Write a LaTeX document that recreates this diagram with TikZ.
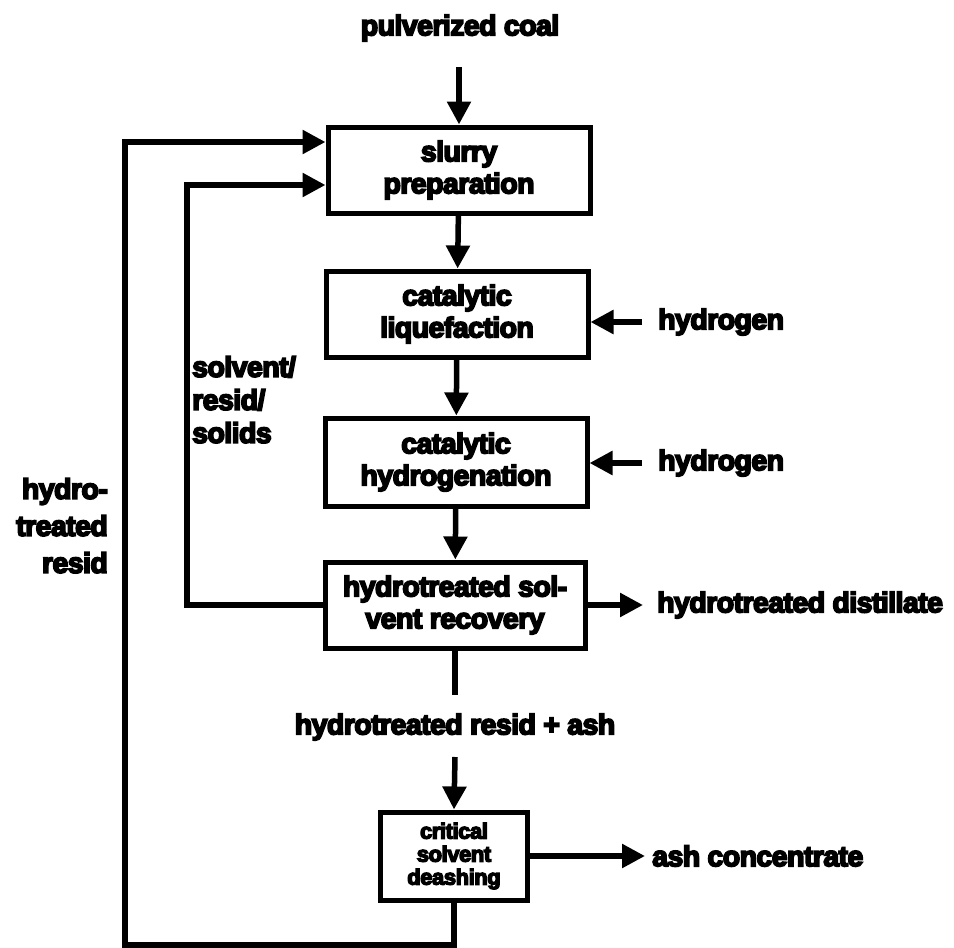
\documentclass[tikz,border=0pt]{standalone}
\usepackage{fontspec}
\newfontfamily\heavy{Liberation Sans Bold}[FakeBold=6,LetterSpace=-2]
\usetikzlibrary{arrows.meta}
\begin{document}
\begin{tikzpicture}[x=1pt,y=-1pt,
  flow/.style={line width=5.5pt},
  arr/.style={flow,-{Triangle[length=23pt,width=23pt]}},
  unit/.style={draw,line width=5pt,minimum width=262pt,minimum height=86pt,
    inner sep=0pt,align=center,font=\fontsize{28.5}{32}\selectfont\heavy},
  smallunit/.style={unit,minimum width=147pt,minimum height=88pt,
    font=\fontsize{22}{23}\selectfont\heavy},
  lbl/.style={inner sep=0pt,font=\fontsize{28.5}{33}\selectfont\heavy}]
\useasboundingbox (0,0) rectangle (954,948);

% process units
\node[unit] (b1) at (459,170) {slurry\\preparation};
\node[unit] (b2) at (457,314) {catalytic\\liquefaction};
\node[unit,minimum height=88pt] (b3) at (456,462) {catalytic\\hydrogenation};
\node[unit,minimum width=260pt] (b4) at (455,605) {hydrotreated sol-\\vent recovery};
\node[smallunit] (b5) at (454,856) {critical\\solvent\\deashing};

% stream labels
\node[lbl] (coal) at (460,28) {pulverized coal};
\node[lbl,anchor=west] (h1) at (658,322) {hydrogen};
\node[lbl,anchor=west] (h2) at (658,463) {hydrogen};
\node[lbl,anchor=west] (dist) at (657,605) {hydrotreated distillate};
\node[lbl] (rash) at (455,727) {hydrotreated resid + ash};
\node[lbl,anchor=west] (ashc) at (652,856) {ash concentrate};
\node[lbl,anchor=north west,align=left] (srs) at (192,356) {solvent/\\resid/\\solids};
\node[lbl,anchor=north east,align=right,font=\fontsize{28.5}{37}\selectfont\heavy] (htr) at (108,478) {hydro-\\treated\\resid};

% main train
\coordinate (cin) at (459,67);
\draw[arr] (cin) -- (b1.north);
\draw[arr] (b1) -- (b2);
\draw[arr] (b2) -- (b3);
\draw[arr] (b3) -- (b4);
\coordinate (r1) at (455,695);
\coordinate (r2) at (455,757);
\draw[flow] (b4.south) -- (r1);
\draw[arr] (r2) -- (b5.north);

% side streams
\draw[arr] ([xshift=-16pt]h1.west) -- (b2.east |- h1.west);
\draw[arr] ([xshift=-16pt]h2.west) -- (b3.east |- h2.west);
\draw[arr] (b4.east) -- ([xshift=-14pt]dist.west);
\draw[arr] (b5.east) -- ([xshift=-7pt]ashc.west);

% solvent/resid/solids recycle
\coordinate (i1) at (187,185);
\draw[arr] (b4.west) -| (i1) -- (i1 -| b1.west);

% hydrotreated resid recycle
\coordinate (o1) at (125,945);
\coordinate (o2) at (125,142);
\draw[arr] (b5.south) |- (o1) -- (o2) -- (o2 -| b1.west);
\end{tikzpicture}
\end{document}
